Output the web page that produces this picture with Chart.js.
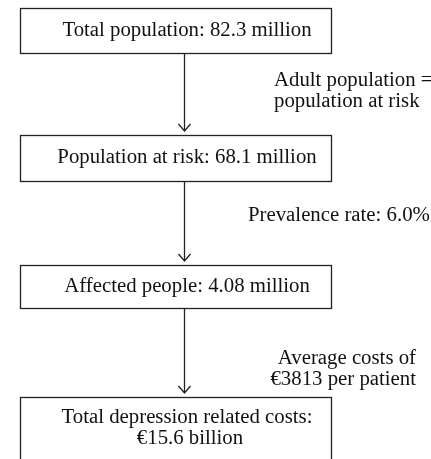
<!DOCTYPE html>
<html>
<head>
<meta charset="utf-8">
<script src="https://cdn.jsdelivr.net/npm/chart.js@4.4.1/dist/chart.umd.min.js"></script>
<style>
  html, body { margin: 0; padding: 0; background: #fff; }
  #wrap { width: 431px; height: 459px; }
</style>
</head>
<body>
<div id="wrap"><canvas id="chart" width="431" height="459"></canvas></div>
<script>
// flow steps (box texts) and the transitions between them
const stepLines = [
    ["Total population: 82.3 million"],
    ["Population at risk: 68.1 million"],
    ["Affected people: 4.08 million"],
    ["Total depression related costs:", "\u20AC15.6 billion"]
]
const transitionLines = [
    ["Adult population =", "population at risk"],
    ["Prevalence rate: 6.0%"],
    ["Average costs of", "\u20AC3813 per patient"]
]

// layout, in reference pixel units on the hidden axes
const boxLeft = 20
const boxRight = 331
const boxTops = [8, 135, 265, 397]
const boxBottoms = [53, 181, 308, 472]
const boxTextX = 187
const arrowX = 184
const noteX = [274, 248, 416]
const noteAlign = ["left", "left", "right"]
const noteCenterY = [91, 216, 369]
const lineGap = 21
const font = "20.8px 'Liberation Serif', 'DejaVu Serif', serif"

const flowPlugin = {
    id: "flow",
    afterDraw(chart) {
        const ctx = chart.ctx
        const xs = chart.scales.x
        const ys = chart.scales.y
        ctx.save()
        ctx.strokeStyle = "#222"
        ctx.fillStyle = "#111"
        ctx.lineWidth = 1.3
        ctx.font = font
        ctx.textBaseline = "middle"

        stepLines.forEach((lines, i) => {
            const x0 = xs.getPixelForValue(boxLeft)
            const x1 = xs.getPixelForValue(boxRight)
            const y0 = ys.getPixelForValue(boxTops[i])
            const y1 = ys.getPixelForValue(boxBottoms[i])
            ctx.strokeRect(Math.round(x0) + 0.5, Math.round(y0) + 0.5, Math.round(x1 - x0), Math.round(y1 - y0))

            const cy = (boxTops[i] + Math.min(boxBottoms[i], boxTops[i] + 46)) / 2
            const startY = lines.length > 1 ? boxTops[i] + 21 : cy
            ctx.textAlign = "center"
            lines.forEach((t, k) => {
                ctx.fillText(t, xs.getPixelForValue(boxTextX + k * 3), ys.getPixelForValue(startY + k * lineGap))
            })

            if (i < stepLines.length - 1) {
                const ax = Math.round(xs.getPixelForValue(arrowX)) + 0.5
                const ya = ys.getPixelForValue(boxBottoms[i])
                const yb = ys.getPixelForValue(boxTops[i + 1] - 4)
                ctx.beginPath()
                ctx.moveTo(ax, ya)
                ctx.lineTo(ax, yb)
                ctx.moveTo(ax - 6, yb - 7)
                ctx.lineTo(ax, yb)
                ctx.lineTo(ax + 6, yb - 7)
                ctx.stroke()
            }
        })

        transitionLines.forEach((lines, i) => {
            ctx.textAlign = noteAlign[i]
            const top = noteCenterY[i] - (lines.length - 1) * lineGap / 2
            lines.forEach((t, k) => {
                ctx.fillText(t, xs.getPixelForValue(noteX[i]), ys.getPixelForValue(top + k * lineGap))
            })
        })
        ctx.restore()
    }
}

new Chart(document.getElementById("chart"), {
    type: "scatter",
    data: { datasets: [] },
    options: {
        responsive: false,
        animation: false,
        events: [],
        layout: { padding: 0 },
        plugins: { legend: { display: false }, tooltip: { enabled: false } },
        scales: {
            x: { type: "linear", min: 0, max: 431, display: false },
            y: { type: "linear", min: 0, max: 459, reverse: true, display: false }
        }
    },
    plugins: [flowPlugin]
})
</script>
</body>
</html>
